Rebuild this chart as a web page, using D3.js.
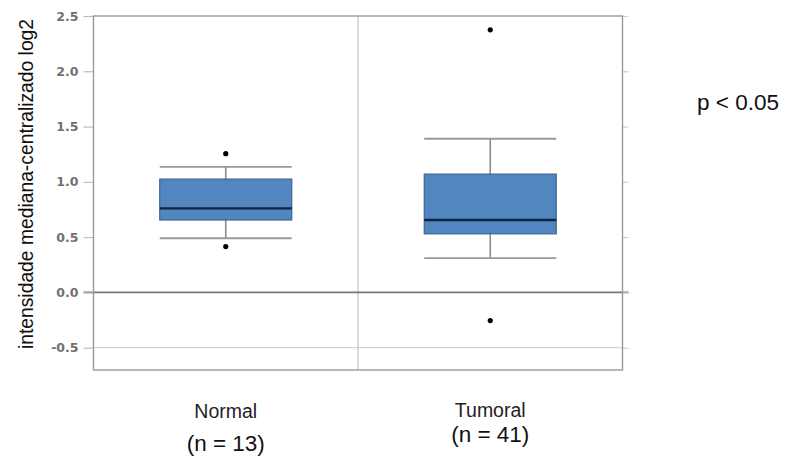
<!DOCTYPE html>
<html>
<head>
<meta charset="utf-8">
<script src="https://cdn.jsdelivr.net/npm/d3@7/dist/d3.min.js"></script>
<style>
  body { margin: 0; background: #fff; }
  svg { display: block; }
</style>
</head>
<body>
<svg id="chart" width="788" height="460"></svg>
<script>
    "use strict";

    // groups and box statistics
    var groups = ["Normal", "Tumoral"];
    var counts = ["(n = 13)", "(n = 41)"];
    var whiskerLow = [0.49, 0.31];
    var q1 = [0.655, 0.53];
    var median = [0.76, 0.655];
    var q3 = [1.025, 1.07];
    var whiskerHigh = [1.135, 1.39];
    var outliers = [[1.255, 0.415], [2.375, -0.255]];
    var yTicks = [-0.5, 0.0, 0.5, 1.0, 1.5, 2.0, 2.5];
    var pLabel = "p < 0.05";
    var yTitle = "intensidade mediana-centralizado log2";

    (function () {
        var svg = d3.select("#chart");

        var plotLeft = 93.5, plotRight = 622.5, plotTop = 16, plotBottom = 370;

        var y = d3.scaleLinear().domain([-0.5, 2.5]).range([347.7, 16]);
        var x = d3.scaleBand().domain(groups).range([plotLeft, plotRight]);
        var boxW = 132;

        // light reference line
        svg.append("line")
            .attr("x1", plotLeft).attr("x2", plotRight)
            .attr("y1", y(-0.5)).attr("y2", y(-0.5))
            .attr("stroke", "#d4d4d4").attr("stroke-width", 1.2);

        // divider between groups
        svg.append("line")
            .attr("x1", x("Tumoral")).attr("x2", x("Tumoral"))
            .attr("y1", plotTop).attr("y2", plotBottom)
            .attr("stroke", "#c4c4c4").attr("stroke-width", 1.2);

        // zero line
        svg.append("line")
            .attr("x1", plotLeft - 10).attr("x2", plotRight + 6)
            .attr("y1", y(0)).attr("y2", y(0))
            .attr("stroke", "#777").attr("stroke-width", 1.6);

        // left axis (hyphen minus like the original)
        var fmt = d3.format(".1f");
        var yAxis = d3.axisLeft(y).tickValues(yTicks).tickSize(10).tickPadding(5)
            .tickFormat(function (d) { return fmt(d).replace("\u2212", "-"); });
        var ga = svg.append("g").attr("transform", "translate(" + plotLeft + ",0)").call(yAxis);
        ga.select(".domain").remove();
        ga.selectAll(".tick line").attr("stroke", "#bdbdbd").attr("stroke-width", 1.2);
        ga.selectAll(".tick text")
            .attr("fill", "#707070")
            .style("font-family", "DejaVu Sans, sans-serif")
            .style("font-weight", "bold")
            .style("font-size", "12.5px");

        // right ticks
        var yAxisR = d3.axisRight(y).tickValues(yTicks).tickSize(6).tickFormat("");
        var gr = svg.append("g").attr("transform", "translate(" + plotRight + ",0)").call(yAxisR);
        gr.select(".domain").remove();
        gr.selectAll(".tick line").attr("stroke", "#d0d0d0").attr("stroke-width", 1.2);

        // frame
        svg.append("rect")
            .attr("x", plotLeft).attr("y", plotTop)
            .attr("width", plotRight - plotLeft).attr("height", plotBottom - plotTop)
            .attr("fill", "none").attr("stroke", "#9a9a9a").attr("stroke-width", 1.4);

        // boxes
        var boxes = groups.map(function (g, i) {
            return { name: g, lo: whiskerLow[i], q1: q1[i], med: median[i], q3: q3[i], hi: whiskerHigh[i], out: outliers[i] };
        });

        var gb = svg.selectAll(".box").data(boxes).enter().append("g").attr("class", "box");

        var cx = function (d) { return x(d.name) + x.bandwidth() / 2; };

        gb.append("line")
            .attr("x1", cx).attr("x2", cx)
            .attr("y1", function (d) { return y(d.hi); })
            .attr("y2", function (d) { return y(d.lo); })
            .attr("stroke", "#8a8a8a").attr("stroke-width", 1.6);

        gb.selectAll(".cap")
            .data(function (d) { return [d.lo, d.hi].map(function (v) { return { c: cx(d), v: v }; }); })
            .enter().append("line")
            .attr("x1", function (d) { return d.c - boxW / 2; })
            .attr("x2", function (d) { return d.c + boxW / 2; })
            .attr("y1", function (d) { return y(d.v); })
            .attr("y2", function (d) { return y(d.v); })
            .attr("stroke", "#999").attr("stroke-width", 1.8);

        gb.append("rect")
            .attr("x", function (d) { return cx(d) - boxW / 2; })
            .attr("y", function (d) { return y(d.q3); })
            .attr("width", boxW)
            .attr("height", function (d) { return y(d.q1) - y(d.q3); })
            .attr("fill", "#5186c0").attr("stroke", "#3d6592").attr("stroke-width", 1.2);

        gb.append("line")
            .attr("x1", function (d) { return cx(d) - boxW / 2; })
            .attr("x2", function (d) { return cx(d) + boxW / 2; })
            .attr("y1", function (d) { return y(d.med); })
            .attr("y2", function (d) { return y(d.med); })
            .attr("stroke", "#10243f").attr("stroke-width", 2.4);

        gb.selectAll(".out")
            .data(function (d) { return d.out.map(function (v) { return { c: cx(d), v: v }; }); })
            .enter().append("circle")
            .attr("cx", function (d) { return d.c; })
            .attr("cy", function (d) { return y(d.v); })
            .attr("r", 2.6)
            .attr("fill", "#000");

        // category labels
        var font = "Liberation Sans, Arial, sans-serif";
        var nameY = [418, 416.5];
        var countY = [451, 442];

        svg.selectAll(".gname").data(groups).enter().append("text")
            .attr("x", function (d) { return x(d) + x.bandwidth() / 2; })
            .attr("y", function (d, i) { return nameY[i]; })
            .attr("text-anchor", "middle")
            .style("font-family", font).style("font-size", "19.5px").attr("fill", "#222")
            .text(function (d) { return d; });

        svg.selectAll(".gcount").data(counts).enter().append("text")
            .attr("x", function (d, i) { return x(groups[i]) + x.bandwidth() / 2; })
            .attr("y", function (d, i) { return countY[i]; })
            .attr("text-anchor", "middle")
            .style("font-family", font).style("font-size", "22.5px").attr("fill", "#111")
            .text(function (d) { return d; });

        // y title
        svg.append("text")
            .attr("transform", "translate(33," + ((plotTop + 352) / 2) + ") rotate(-90)")
            .attr("text-anchor", "middle")
            .style("font-family", font).style("font-size", "19.3px").attr("fill", "#111")
            .text(yTitle);

        // p value
        svg.append("text")
            .attr("x", 697).attr("y", 110)
            .style("font-family", font).style("font-size", "22.5px").attr("fill", "#111")
            .text(pLabel);
    })();
</script>
</body>
</html>
